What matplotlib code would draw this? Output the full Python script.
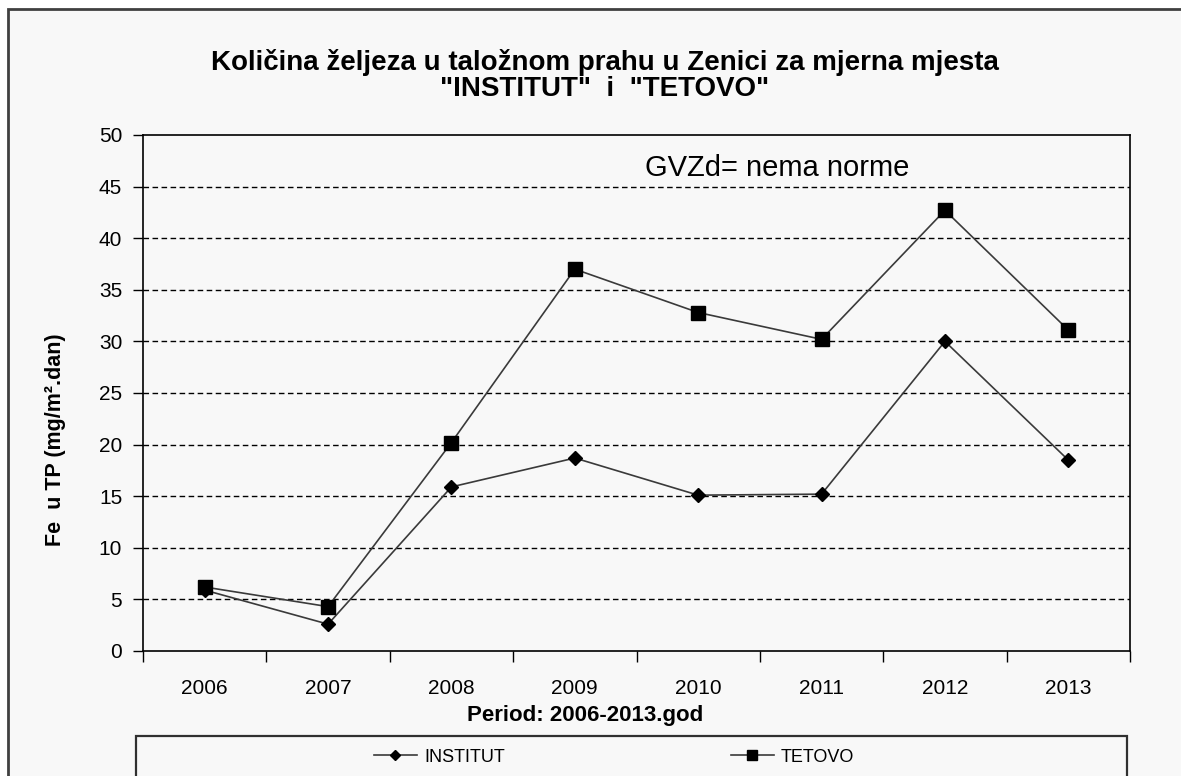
import matplotlib
matplotlib.use('Agg')
import matplotlib.pyplot as plt
from matplotlib.patches import Rectangle

plt.rcParams['font.family'] = ['Liberation Sans', 'DejaVu Sans']

# data
years = ['2006', '2007', '2008', '2009', '2010', '2011', '2012', '2013']
institut = [5.9, 2.6, 15.9, 18.7, 15.1, 15.2, 30.0, 18.5]
tetovo = [6.2, 4.3, 20.2, 37.0, 32.8, 30.2, 42.7, 31.1]
yticks = list(range(0, 51, 5))

W, H = 1181, 776
fig = plt.figure(figsize=(W / 100, H / 100), dpi=100)
fig.patch.set_facecolor('white')

# outer chart border (Excel style)
fig.patches.append(Rectangle((8 / W, -0.1), 1.2, 1 - 9 / H + 0.1,
                             transform=fig.transFigure, facecolor='#f8f8f8',
                             edgecolor='#404040', lw=2, zorder=-10))

ax = fig.add_axes([143 / W, 1 - 651 / H, (1130 - 143) / W, (651 - 135) / H])
ax.set_facecolor('#f8f8f8')

x = list(range(len(years)))
ax.plot(x, institut, color='#3a3a3a', lw=1.2, marker='D', ms=7,
        mfc='black', mec='black', label='INSTITUT', zorder=3)
ax.plot(x, tetovo, color='#3a3a3a', lw=1.2, marker='s', ms=10,
        mfc='black', mec='black', label='TETOVO', zorder=3)

ax.set_xlim(-0.5, len(years) - 0.5)
ax.set_ylim(0, 50)
ax.set_yticks(yticks)
ax.set_yticklabels([str(v) for v in yticks], fontsize=15)
for v in yticks[1:-1]:
    ax.axhline(v, color='black', lw=1, ls=(0, (4, 2.5)), zorder=1)

# categories sit between tick marks
ax.set_xticks([i - 0.5 for i in range(len(years) + 1)])
ax.set_xticklabels([])
ax.set_xticks(x, minor=True)
ax.set_xticklabels(years, minor=True, fontsize=15)
ax.tick_params(axis='x', which='minor', length=0, pad=20)
ax.tick_params(axis='x', which='major', length=8, width=1, direction='out')
ax.tick_params(axis='y', length=7, width=1, direction='out', pad=8)
for s in ax.spines.values():
    s.set_linewidth(1.2)
    s.set_color('black')

fig.text(605 / W, 1 - 63 / H, 'Količina željeza u taložnom prahu u Zenici za mjerna mjesta',
         ha='center', va='center', fontsize=20, fontweight='bold')
fig.text(605 / W, 1 - 89 / H, '"INSTITUT"  i  "TETOVO"',
         ha='center', va='center', fontsize=20, fontweight='bold')

ax.text(3.57, 46.8, 'GVZd= nema norme', fontsize=21, ha='left', va='center')

fig.text(585 / W, 1 - 715 / H, 'Period: 2006-2013.god', ha='center', va='center',
         fontsize=16, fontweight='bold')
fig.text(55 / W, 1 - 440 / H, 'Fe  u TP (mg/m².dan)', ha='center', va='center',
         rotation=90, fontsize=15.5, fontweight='bold')

# legend box
fig.patches.append(Rectangle((136 / W, -0.05), (1127 - 136) / W, 1 - 736 / H + 0.05,
                             transform=fig.transFigure, facecolor='#f8f8f8',
                             edgecolor='#303030', lw=1.6, zorder=1))
fig.legend(loc='center', bbox_to_anchor=(614 / W, 1 - 757 / H), ncol=2,
           frameon=False, fontsize=13, handlelength=2.4, handletextpad=0.4,
           columnspacing=12.5, markerscale=0.75)

fig.savefig('out.png', dpi=100, facecolor=fig.get_facecolor())
